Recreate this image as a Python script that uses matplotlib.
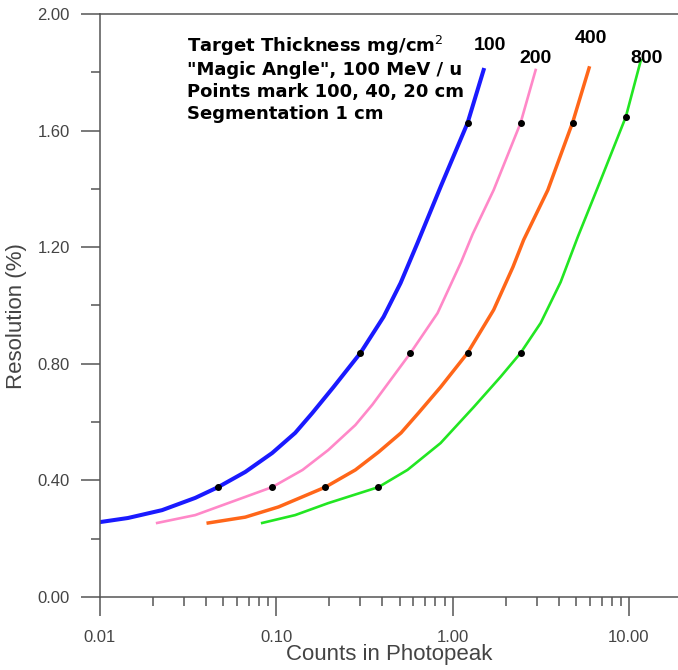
"""
Resolution vs counts in photopeak for several target thicknesses
"""
import matplotlib.pyplot as plt
from matplotlib.ticker import FixedLocator, MultipleLocator, FuncFormatter, LogLocator, NullFormatter

plt.rcParams['font.family'] = ['Liberation Sans', 'DejaVu Sans']

# thickness labels (mg/cm^2)
thickness = ['100', '200', '400', '800']
colors = ['#1a1aff', '#ff88c8', '#ff6619', '#22e622']
widths = [2.9, 1.9, 2.5, 1.9]

# curves
x_100 = [0.0100, 0.0144, 0.0225, 0.0347, 0.0468, 0.0667, 0.0948, 0.128, 0.160, 0.211,
         0.300, 0.406, 0.507, 0.632, 0.855, 1.216, 1.50]
y_100 = [0.257, 0.271, 0.298, 0.340, 0.377, 0.429, 0.494, 0.563, 0.631, 0.720,
         0.837, 0.961, 1.077, 1.214, 1.407, 1.626, 1.808]
x_200 = [0.0211, 0.0347, 0.0533, 0.0948, 0.141, 0.197, 0.281, 0.351, 0.577, 0.822,
         1.12, 1.30, 1.71, 2.43, 2.96]
y_200 = [0.254, 0.281, 0.322, 0.377, 0.436, 0.504, 0.590, 0.660, 0.837, 0.974,
         1.150, 1.245, 1.396, 1.626, 1.808]
x_400 = [0.0411, 0.0667, 0.103, 0.190, 0.281, 0.380, 0.51, 0.64, 0.855, 1.216,
         1.71, 2.20, 2.53, 3.47, 4.81, 5.95]
y_400 = [0.254, 0.274, 0.309, 0.377, 0.436, 0.497, 0.563, 0.631, 0.720, 0.837,
         0.985, 1.132, 1.225, 1.396, 1.630, 1.815]
x_800 = [0.0832, 0.128, 0.197, 0.380, 0.555, 0.855, 1.32, 1.87, 2.43,
         3.16, 4.10, 5.13, 6.93, 9.61, 11.7]
y_800 = [0.254, 0.281, 0.322, 0.377, 0.436, 0.528, 0.652, 0.755, 0.837,
         0.940, 1.080, 1.235, 1.431, 1.647, 1.842]

# points mark 100, 40, 20 cm
px_100 = [0.0468, 0.300, 1.216]
px_200 = [0.0948, 0.577, 2.43]
px_400 = [0.190, 1.216, 4.81]
px_800 = [0.380, 2.43, 9.61]
py_pts = [0.377, 0.837, 1.626]
py_800 = [0.377, 0.837, 1.647]

curves = [(x_100, y_100), (x_200, y_200), (x_400, y_400), (x_800, y_800)]
points = [(px_100, py_pts), (px_200, py_pts), (px_400, py_pts), (px_800, py_800)]

# curve label positions (data coords, baseline)
label_x = [1.62, 2.96, 6.08, 12.6]
label_y = [1.876, 1.832, 1.900, 1.832]

note_lines = ['Target Thickness mg/cm$^2$', '"Magic Angle", 100 MeV / u',
              'Points mark 100, 40, 20 cm', 'Segmentation 1 cm']
note_y = [1.870, 1.791, 1.715, 1.640]

fig = plt.figure(figsize=(6.78, 6.70), dpi=100)
ax = fig.add_axes([100 / 678, 73 / 670, 578 / 678, 583 / 670])

for (xs, ys), (mx, my), c, lw in zip(curves, points, colors, widths):
    ax.plot(xs, ys, color=c, linewidth=lw, solid_joinstyle='round')
    ax.plot(mx, my, 'o', color='black', markersize=4, zorder=5)

for name, lx, ly in zip(thickness, label_x, label_y):
    ax.text(lx, ly, name, fontsize=14, weight='bold', ha='center', va='baseline')

for line, ny in zip(note_lines, note_y):
    ax.text(0.0312, ny, line, fontsize=13, weight='bold', family='DejaVu Sans',
            ha='left', va='baseline')

ax.set_xscale('log')
ax.set_xlim(0.01, 19)
ax.set_ylim(0, 2.0)

ax.xaxis.set_major_locator(FixedLocator([0.01, 0.1, 1, 10]))
ax.xaxis.set_major_formatter(FuncFormatter(lambda v, p: '%.2f' % v))
ax.xaxis.set_minor_locator(LogLocator(base=10, subs=range(2, 10)))
ax.xaxis.set_minor_formatter(NullFormatter())
ax.yaxis.set_major_locator(MultipleLocator(0.4))
ax.yaxis.set_minor_locator(MultipleLocator(0.2))
ax.yaxis.set_major_formatter(FuncFormatter(lambda v, p: '%.2f' % v))

gray = '#555555'
ax.tick_params(which='major', length=13.7, width=1.1, color=gray, labelsize=12,
               labelcolor='#444444')
ax.tick_params(axis='x', which='major', pad=10)
ax.tick_params(axis='y', which='major', pad=8)
ax.tick_params(which='minor', length=6.5, width=1.1, color=gray)
ax.tick_params(top=False, right=False, which='both')

for side in ['left', 'bottom', 'top']:
    ax.spines[side].set_color(gray)
    ax.spines[side].set_linewidth(1.1)
ax.spines['right'].set_visible(False)

ax.set_xlabel('Counts in Photopeak', fontsize=16, color='#444444')
ax.set_ylabel('Resolution (%)', fontsize=16, color='#444444')
ax.xaxis.set_label_coords(0.5, -0.0806)
ax.yaxis.set_label_coords(-0.127, 0.482)

fig.savefig('out.png', dpi=100)
